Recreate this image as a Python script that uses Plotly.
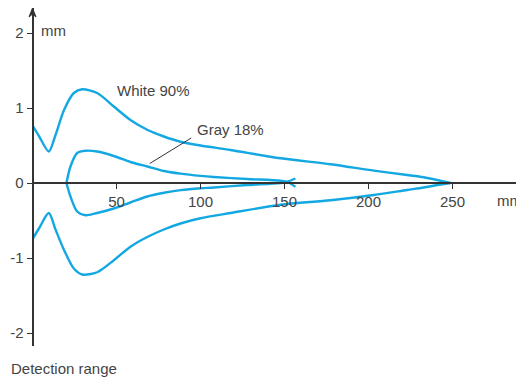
import plotly.graph_objects as go

# ---- data (mm) ----
white_x = [0, 4, 9.7, 13.7, 18.7, 24.6, 29.6, 38.5, 48.4, 58.3, 68.3, 78.2, 88.1,
           100, 117.9, 147.6, 177.4, 203.2, 223, 232.9, 240.9, 248.8]
white_upper = [0.77, 0.62, 0.42, 0.64, 0.97, 1.20, 1.25, 1.20, 1.02, 0.84, 0.71, 0.62, 0.55,
               0.50, 0.44, 0.33, 0.25, 0.165, 0.107, 0.076, 0.04, 0.0]
white_lower = [-0.75, -0.60, -0.40, -0.62, -0.89, -1.14, -1.22, -1.19, -1.03, -0.85, -0.72, -0.62, -0.54,
               -0.47, -0.40, -0.29, -0.23, -0.16, -0.093, -0.06, -0.027, 0.0]

gray_x = [20.2, 22.6, 26.6, 31.5, 38.5, 48.4, 58.3, 68.3, 78.2, 88.1, 100, 107.9,
          127.8, 147.6, 152, 156.5]
gray_upper = [0.0, 0.22, 0.40, 0.43, 0.42, 0.36, 0.28, 0.22, 0.16, 0.125, 0.095, 0.08,
              0.053, 0.03, 0.01, -0.05]
gray_lower = [0.0, -0.18, -0.38, -0.43, -0.40, -0.34, -0.26, -0.18, -0.13, -0.095, -0.07, -0.06,
              -0.027, 0.0, 0.02, 0.06]

leader_x = [69.8, 94.5]
leader_y = [0.26, 0.60]

x_ticks = [50, 100, 150, 200, 250]
y_ticks = [-2, -1, 0, 1, 2]
y_ticktext = ["-2", "-1", "0", "1", "2"]

BLUE = "#13A8E2"
AX = "#333333"
TXT = "#444444"
FONT = "Liberation Sans, Arial, sans-serif"

# page has an 8px body margin: work in figure pixels = reference pixels - 8
OFF = 8
W, H = 524 - OFF, 380 - OFF
x0_px, y0_px = 32.5 - OFF, 183 - OFF
px_per_x = 1.68
px_per_y = 75.0
y_top_px, y_bot_px = 0, 346 - OFF

fig = go.Figure()
for xs, ys in [(white_x, white_upper), (white_x, white_lower),
               (gray_x, gray_upper), (gray_x, gray_lower)]:
    fig.add_trace(go.Scatter(x=xs, y=ys, mode="lines",
                             line=dict(color=BLUE, width=2.4, shape="spline", smoothing=0.8),
                             hoverinfo="skip", showlegend=False))
fig.add_trace(go.Scatter(x=leader_x, y=leader_y, mode="lines",
                         line=dict(color=AX, width=1), hoverinfo="skip", showlegend=False))

x_range = [0, (W - x0_px) / px_per_x]
y_range = [(y0_px - y_bot_px) / px_per_y, (y0_px - y_top_px) / px_per_y]

def py(p):  # reference pixel y -> paper fraction
    return 1 - (p - OFF) / H

def px(p):  # reference pixel x -> paper fraction
    return (p - OFF) / W

fig.update_layout(
    width=W, height=H,
    margin=dict(l=0, r=0, t=0, b=0),
    paper_bgcolor="white", plot_bgcolor="white",
    font=dict(family=FONT, size=15, color=TXT),
    xaxis=dict(domain=[x0_px / W, 1], range=x_range, anchor="free",
               position=(H - y0_px) / H, showline=True, linecolor=AX, linewidth=1.6,
               ticks="outside", ticklen=5, tickwidth=1.4, tickcolor=AX,
               tickvals=x_ticks, showgrid=False, zeroline=False,
               tickfont=dict(family=FONT, size=15, color=TXT)),
    yaxis=dict(domain=[(H - y_bot_px) / H, (H - y_top_px) / H], range=y_range,
               anchor="free", position=x0_px / W, showline=True, linecolor=AX,
               linewidth=1.6, ticks="outside", ticklen=5, tickwidth=1.4, tickcolor=AX,
               tickvals=y_ticks, ticktext=y_ticktext, showgrid=False, zeroline=False,
               tickfont=dict(family=FONT, size=15, color=TXT)),
    shapes=[dict(type="path", xref="paper", yref="paper",
                 path=f"M {x0_px/W},{1.0} L {(x0_px-3.5)/W},{py(17)} "
                      f"L {x0_px/W},{py(14)} L {(x0_px+3.5)/W},{py(17)} Z",
                 fillcolor=AX, line=dict(color=AX, width=1))],
    annotations=[
        dict(text="mm", xref="paper", yref="paper", x=px(39), y=py(31),
             xanchor="left", yanchor="middle", showarrow=False),
        dict(text="mm", xref="paper", yref="paper", x=px(524), y=py(200),
             xanchor="right", yanchor="middle", showarrow=False),
        dict(text="Detection range", xref="paper", yref="paper", x=px(9), y=py(368),
             xanchor="left", yanchor="middle", showarrow=False),
        dict(text="White 90%", xref="x", yref="y", x=72, y=1.24,
             xanchor="center", yanchor="middle", showarrow=False),
        dict(text="Gray 18%", xref="x", yref="y", x=96.5, y=0.72,
             xanchor="left", yanchor="middle", showarrow=False),
    ],
)

fig.write_html("out.html")
